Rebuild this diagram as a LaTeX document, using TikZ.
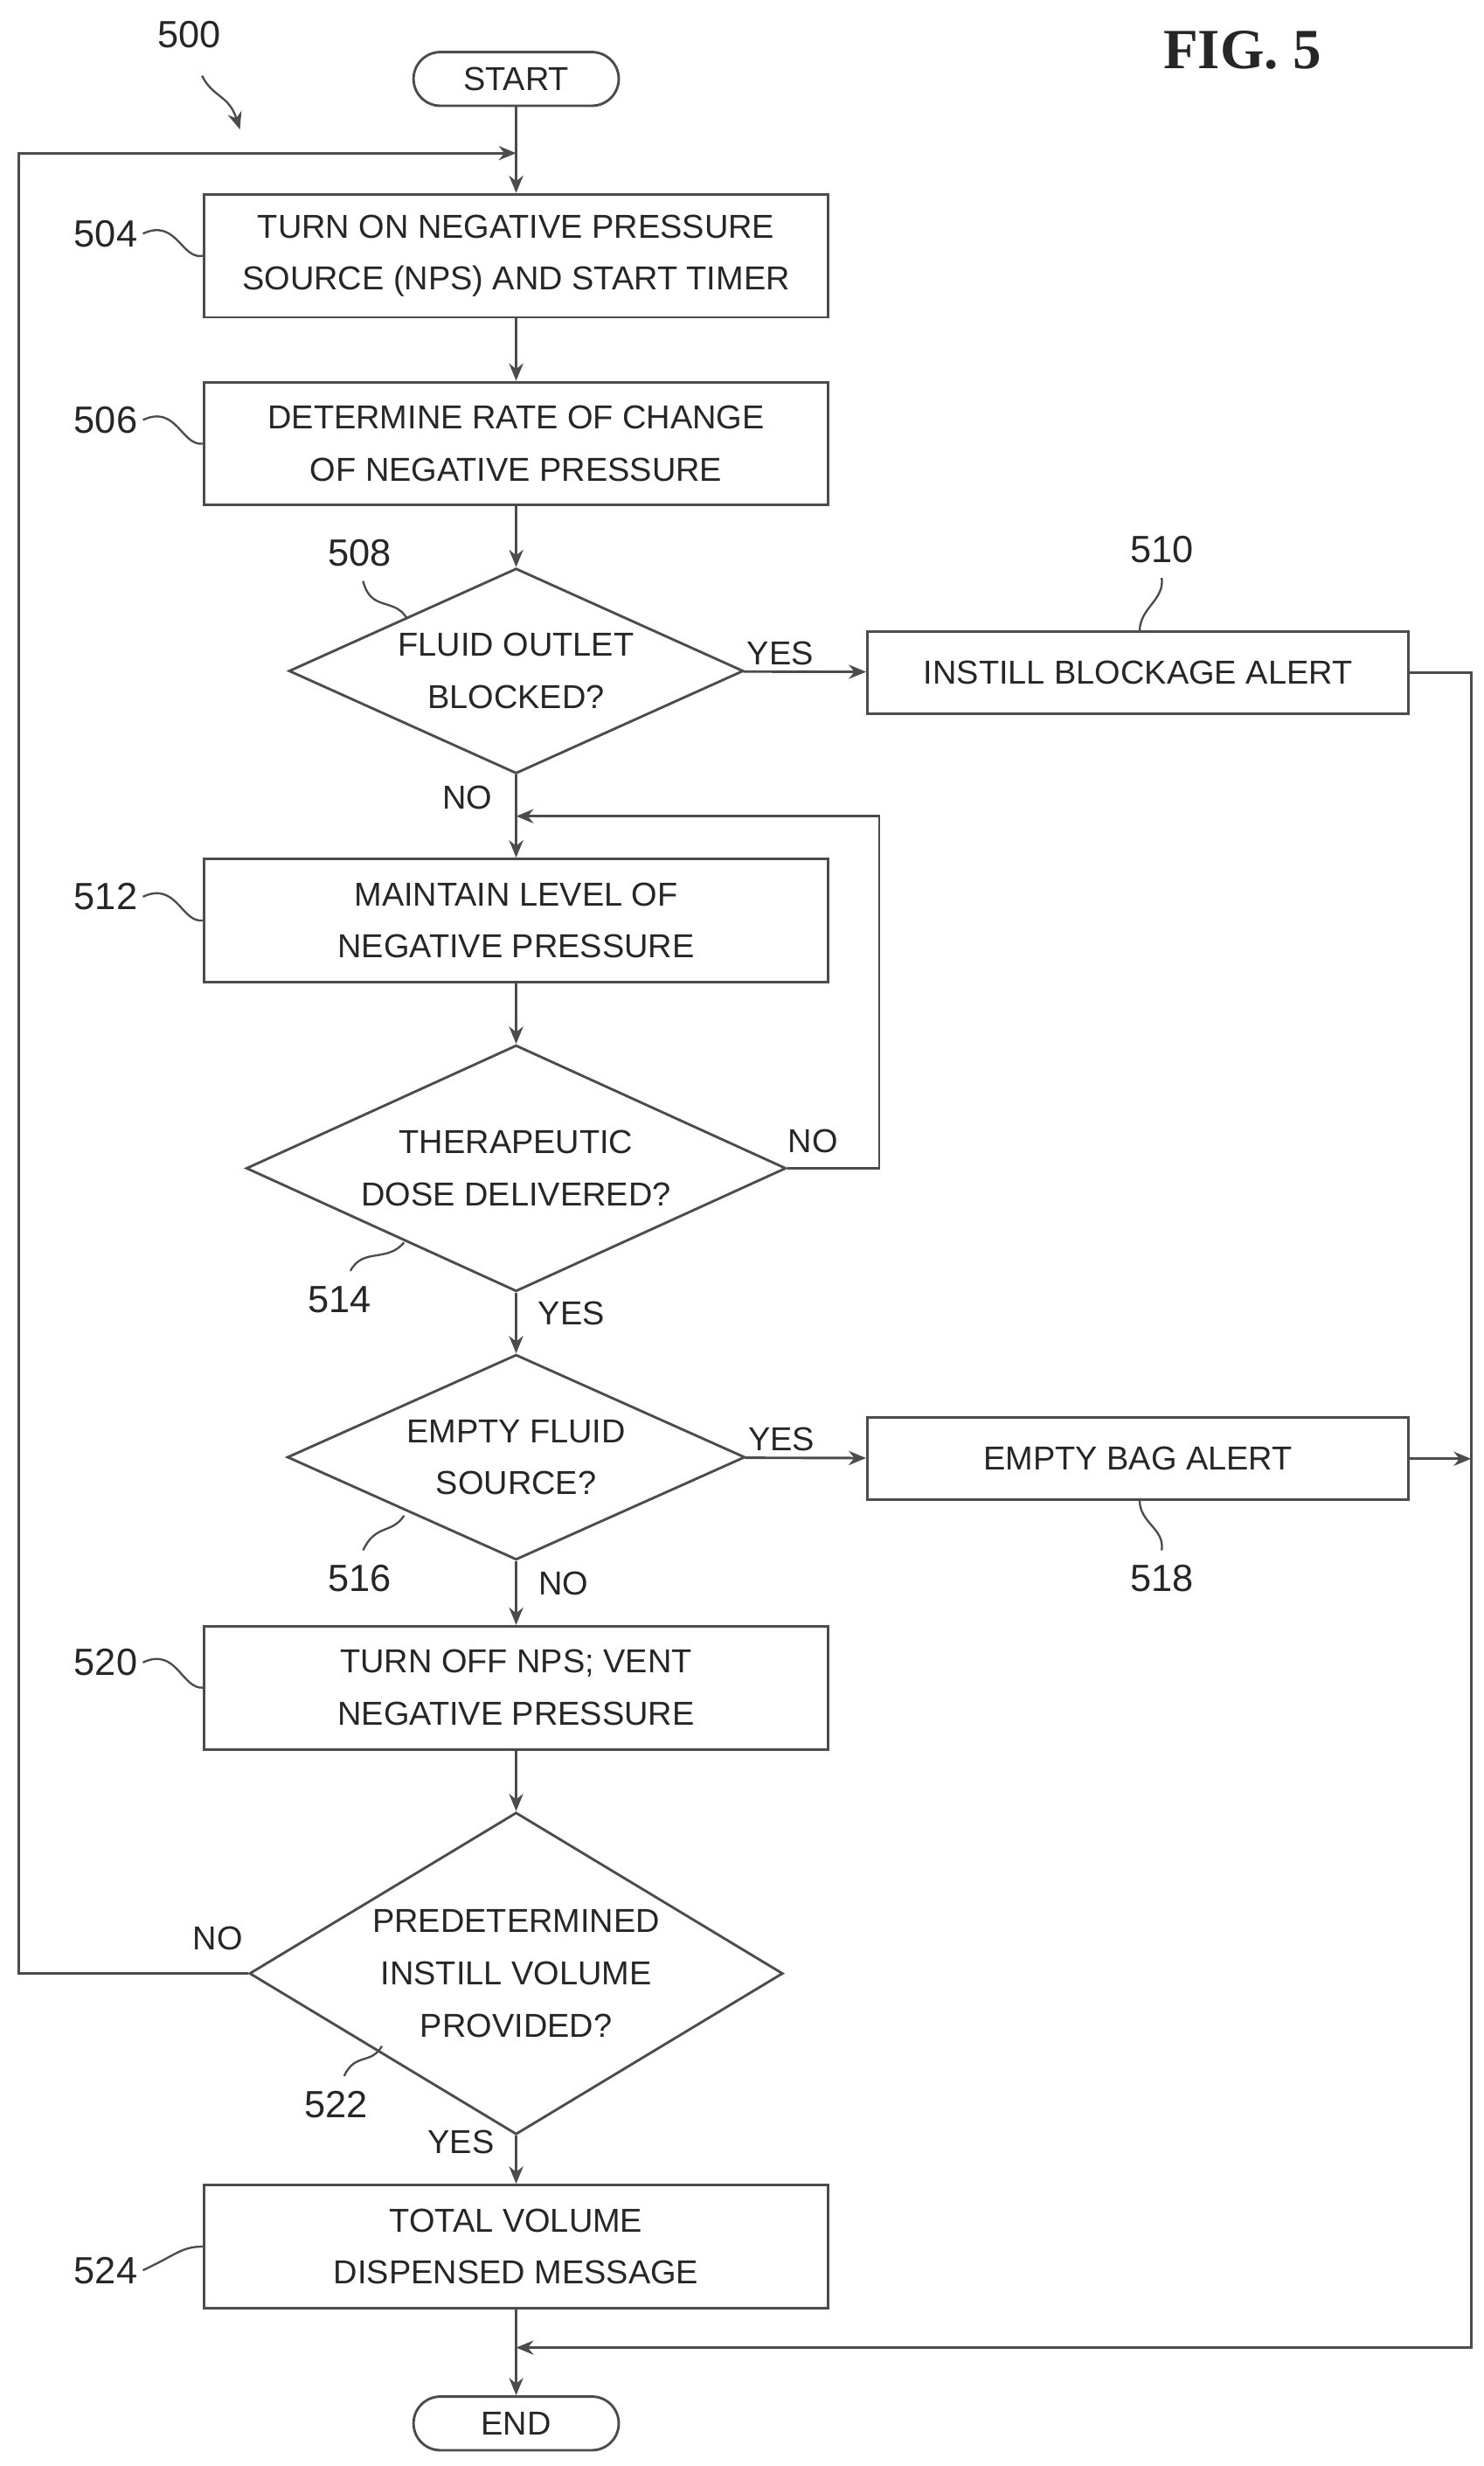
\documentclass[tikz,border=0pt]{standalone}
\usepackage{fontspec}
\setmainfont{Liberation Sans}
\newfontfamily\figfont{Liberation Serif}
\usetikzlibrary{shapes.geometric,arrows.meta}
\begin{document}
\begin{tikzpicture}[x=1pt,y=-1pt,
  every node/.style={font=\fontsize{21}{33}\selectfont, text=black!85},
  ln/.style={draw=black!70, line width=1.6pt},
  box/.style={ln, rectangle, minimum width=395pt, minimum height=78pt, align=center, inner sep=0pt},
  sbox/.style={ln, rectangle, minimum width=343pt, minimum height=52pt, align=center, inner sep=0pt},
  term/.style={ln, rounded corners=17pt, minimum width=130pt, minimum height=34pt, inner sep=0pt},
  dia/.style={ln, diamond, aspect=2.2, align=center, inner sep=0pt},
  arr/.style={ln, -{Stealth[length=11pt,width=9pt]}},
  lead/.style={draw=black!70, line width=1.3pt},
  lbl/.style={font=\fontsize{24}{28}\selectfont}]
\useasboundingbox (0,0) rectangle (940,1562);
\node[term] (start) at (327,50) {START};
\node[box] (b504) at (327,162) {TURN ON NEGATIVE PRESSURE\\SOURCE (NPS) AND START TIMER};
\node[box] (b506) at (327,281) {DETERMINE RATE OF CHANGE\\OF NEGATIVE PRESSURE};
\node[dia, minimum width=288pt, minimum height=130pt] (d508) at (327,425) {FLUID OUTLET\\BLOCKED?};
\node[sbox] (b510) at (721,426) {INSTILL BLOCKAGE ALERT};
\node[box] (b512) at (327,583) {MAINTAIN LEVEL OF\\NEGATIVE PRESSURE};
\node[dia, minimum width=342pt, minimum height=156pt] (d514) at (327,740) {THERAPEUTIC\\DOSE DELIVERED?};
\node[dia, minimum width=290pt, minimum height=130pt] (d516) at (327,923) {EMPTY FLUID\\SOURCE?};
\node[sbox] (b518) at (721,924) {EMPTY BAG ALERT};
\node[box] (b520) at (327,1069) {TURN OFF NPS; VENT\\NEGATIVE PRESSURE};
\node[dia, aspect=1.65, minimum width=338pt, minimum height=204pt] (d522) at (327,1250) {PREDETERMINED\\INSTILL VOLUME\\PROVIDED?};
\node[box] (b524) at (327,1423) {TOTAL VOLUME\\DISPENSED MESSAGE};
\node[term] (end) at (327,1535) {END};
\coordinate (j1) at (327,97);
\coordinate (j2) at (327,517);
\coordinate (j3) at (327,1487);
\coordinate (rr) at (932,924);
\draw[arr] (start) -- (b504);
\draw[arr] (b504) -- (b506);
\draw[arr] (b506) -- (d508);
\draw[arr] (d508) -- node[pos=0.3,above]{YES} (b510);
\draw[arr] (d508) -- (b512);
\draw[arr] (b512) -- (d514);
\draw[arr] (d514) -- (d516);
\draw[arr] (d516) -- node[pos=0.3,above]{YES} (b518);
\draw[arr] (d516) -- (b520);
\draw[arr] (b520) -- (d522);
\draw[arr] (d522) -- (b524);
\draw[arr] (b524) -- (end);
\draw[arr] (d514.east) -| (557,517) -- (j2);
\draw[arr] (d522.west) -| (12,97) -- (j1);
\draw[arr] (b510.east) -| (932,1487) -- (j3);
\draw[arr] (b518.east) -- (rr);
\node at (296,505) {NO};
\node at (515,723) {NO};
\node at (362,832) {YES};
\node at (357,1003) {NO};
\node at (138,1228) {NO};
\node at (292,1357) {YES};
% labels
\node[lbl] (n500) at (120,22) {500};
\node[lbl] (n504) at (67,148) {504};
\node[lbl] (n506) at (67,266) {506};
\node[lbl] (n512) at (67,568) {512};
\node[lbl] (n520) at (67,1053) {520};
\node[lbl] (n524) at (67,1438) {524};
\node[lbl] (n508) at (228,350) {508};
\node[lbl] (n510) at (736,348) {510};
\node[lbl] (n514) at (215,823) {514};
\node[lbl] (n516) at (228,1000) {516};
\node[lbl] (n518) at (736,1000) {518};
\node[lbl] (n522) at (213,1333) {522};
\draw[lead] (n504.east) .. controls (112,138) and (115,165) .. (b504.west|-0,162);
\draw[lead] (n506.east) .. controls (112,256) and (115,283) .. (b506.west|-0,281);
\draw[lead] (n512.east) .. controls (112,558) and (115,585) .. (b512.west|-0,583);
\draw[lead] (n520.east) .. controls (112,1043) and (115,1070) .. (b520.west|-0,1069);
\draw[lead] (n524.east) .. controls (112,1428) and (115,1423) .. (b524.west|-0,1423);
\draw[lead] (230,368) .. controls (235,388) and (250,378) .. (258,392);
\draw[lead] (736,366) .. controls (738,380) and (722,385) .. (722,400);
\draw[lead] (222,805) .. controls (230,790) and (245,800) .. (256,787);
\draw[lead] (230,982) .. controls (238,965) and (248,972) .. (256,960);
\draw[lead] (736,982) .. controls (738,968) and (722,965) .. (722,950);
\draw[lead] (218,1315) .. controls (225,1300) and (235,1308) .. (242,1296);
\draw[lead, -{Stealth[length=11pt,width=9pt]}] (128,48) .. controls (135,62) and (145,60) .. (152,82);
\node[font=\figfont\fontsize{36}{40}\selectfont\bfseries] at (787,32) {FIG. 5};
\end{tikzpicture}
\end{document}
